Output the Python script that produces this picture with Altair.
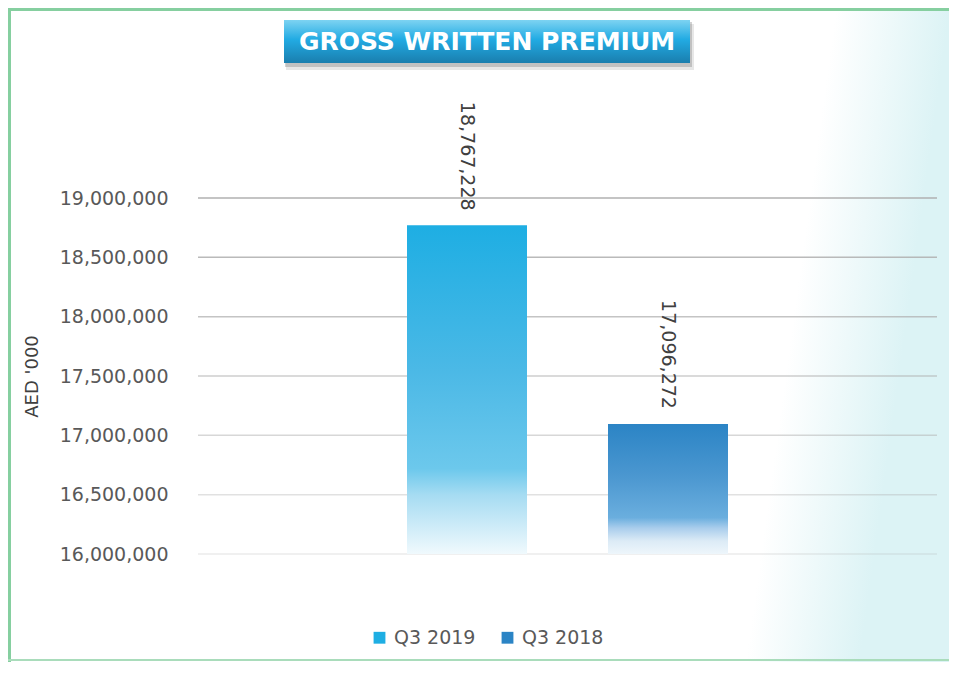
import altair as alt
import pandas as pd

# ---- data ----
categories = ["Q3 2019", "Q3 2018"]
values = [18767228, 17096272]
y_ticks = [16000000, 16500000, 17000000, 17500000, 18000000, 18500000, 19000000]
y_domain = [16000000, 19000000]
title_text = "GROSS WRITTEN PREMIUM"
y_title = "AED '000"

df = pd.DataFrame({"period": categories, "value": values, "base": [y_domain[0]] * len(values)})
grid_df = pd.DataFrame({"tick": y_ticks})
one = alt.Data(values=[{"k": 0}])

FONT = "DejaVu Sans"
W, H = 739, 356
PAD = {"left": 190, "top": 190, "right": 12, "bottom": 108}

def grad(stops, x1=0, y1=0, x2=0, y2=1):
    return alt.Gradient(gradient="linear", x1=x1, y1=y1, x2=x2, y2=y2,
                        stops=[alt.GradientStop(color=c, offset=o) for o, c in stops])

x_enc = alt.X("period:N", sort=categories, axis=None,
              scale=alt.Scale(paddingInner=0.403, paddingOuter=1, range=[8, 731]))
y_scale = alt.Scale(domain=y_domain, nice=False, zero=False)

axis_y = alt.Axis(values=y_ticks, format=",.0f", grid=False, domain=False, ticks=False, tickSize=0,
                  labelPadding=30, labelFontSize=19, labelColor="#595959", labelFont=FONT,
                  title=y_title, titleFontSize=18, titleFont=FONT, titleColor="#404040",
                  titleFontWeight="normal", titlePadding=18, zindex=2)

def y_enc(field):
    return alt.Y(field, type="quantitative", scale=y_scale, axis=axis_y, title=y_title)

# background tint (right-hand side)
bg = alt.Chart(one).mark_rect(
    fill=grad([(0, "#ffffff"), (1, "#dcf3f5")], x1=0.88, y1=0.0, x2=1, y2=0.0115)
).encode(x=alt.value(-190), x2=alt.value(751), y=alt.value(-190), y2=alt.value(464))

# gridlines
grid = alt.Chart(grid_df).mark_rule(color="#b0b0b0", strokeWidth=1.5).encode(
    y=y_enc("tick"),
    opacity=alt.Opacity("tick:Q", scale=alt.Scale(domain=y_domain, range=[0.25, 1]), legend=None),
)

# solid bars (carry legend)
bars_solid = alt.Chart(df).mark_bar().encode(
    x=x_enc,
    y=y_enc("value"),
    y2=alt.Y2("base:Q"),
    color=alt.Color("period:N", sort=categories,
                    scale=alt.Scale(domain=categories, range=["#1eaee3", "#2b84c5"]),
                    legend=alt.Legend(orient="none", legendX=172, legendY=430, direction="horizontal",
                                      title=None, symbolType="square", symbolSize=140,
                                      labelFontSize=19, labelFont=FONT, labelColor="#595959",
                                      labelOffset=5, columnPadding=22, symbolStrokeWidth=0,
                                      zindex=2)),
)

grads = [
    grad([(0, "#1eaee3"), (0.45, "#4cb9e6"), (0.74, "#6cc8ec"), (0.82, "#a6dcf2"), (1, "#f0f9fd")]),
    grad([(0, "#2b84c5"), (0.4, "#4b97d0"), (0.72, "#6aaede"), (0.8, "#a9cdec"), (0.9, "#dcebf6"), (1, "#eef6fb")]),
]
bars_grad = [
    alt.Chart(df).transform_filter(alt.datum.period == c).mark_bar(fill=g).encode(
        x=x_enc, y=y_enc("value"), y2=alt.Y2("base:Q"))
    for c, g in zip(categories, grads)
]

labels = alt.Chart(df).mark_text(angle=90, align="right", baseline="middle", dx=-15,
                                 fontSize=19, font=FONT, color="#404040").encode(
    x=x_enc, y=y_enc("value"), text=alt.Text("value:Q", format=","))

# title box
shadow1 = alt.Chart(one).mark_rect(color="#7a7a7a", opacity=0.18).encode(
    x=alt.value(88), x2=alt.value(496), y=alt.value(-174), y2=alt.value(-128))
shadow2 = alt.Chart(one).mark_rect(color="#6a6a6a", opacity=0.3).encode(
    x=alt.value(87), x2=alt.value(494), y=alt.value(-176), y2=alt.value(-131))
box = alt.Chart(one).mark_rect(
    fill=grad([(0, "#7dd3f2"), (0.45, "#22abe3"), (1, "#1a7eae")])
).encode(x=alt.value(86), x2=alt.value(492), y=alt.value(-178), y2=alt.value(-135))
title = alt.Chart(one).mark_text(text=title_text, font=FONT, fontWeight="bold", fontSize=25,
                                 color="#ffffff", align="center", baseline="middle").encode(
    x=alt.value(289), y=alt.value(-156))

# frame: left, top and bottom edges
BORDER = "#86cfa0"
edge_left = alt.Chart(one).mark_rule(color=BORDER, strokeWidth=3).encode(
    x=alt.value(-188.5), y=alt.value(-190), y2=alt.value(464))
edge_top = alt.Chart(one).mark_rule(color=BORDER, strokeWidth=3).encode(
    x=alt.value(-190), x2=alt.value(751), y=alt.value(-188.5))
edge_bottom = alt.Chart(one).mark_rule(color="#a9dcbb", strokeWidth=2).encode(
    x=alt.value(-190), x2=alt.value(751), y=alt.value(462))

chart = alt.layer(bg, grid, bars_solid, *bars_grad, labels, shadow1, shadow2, box, title,
                  edge_left, edge_top, edge_bottom).properties(
    width=W, height=H, autosize=alt.AutoSizeParams(type="none"), padding=PAD
).configure_view(stroke=None).configure(background="#ffffff")

chart.save("out.html", embed_options={"renderer": "svg", "actions": False})
